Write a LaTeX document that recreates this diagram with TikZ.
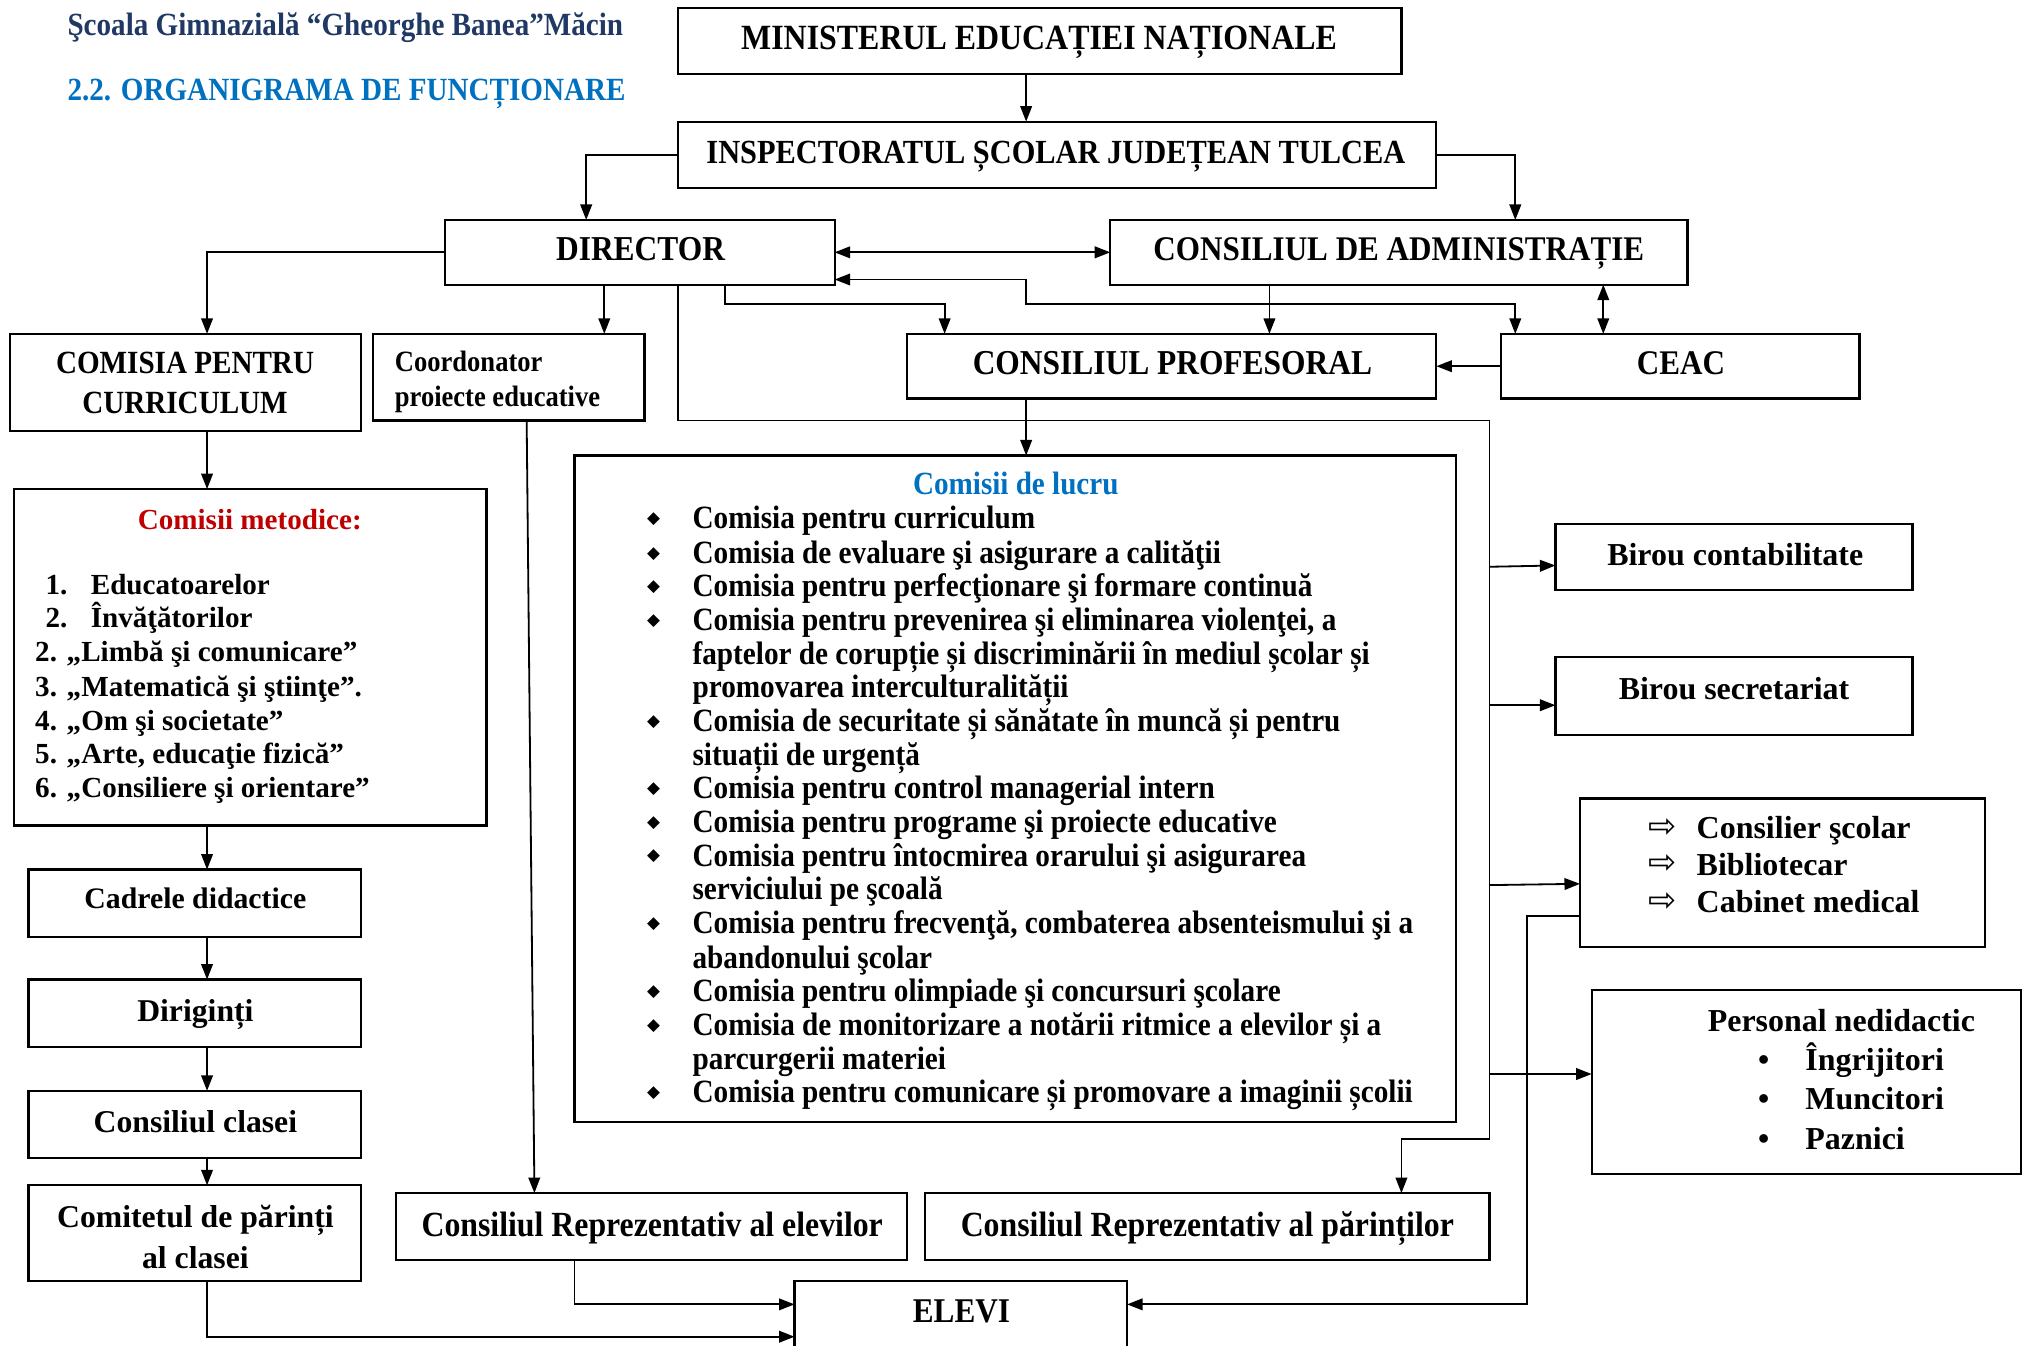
\documentclass[tikz,border=0pt]{standalone}
\usepackage{fontspec}
\setmainfont{Liberation Serif}
\newfontfamily\condf[FakeStretch=0.9]{Liberation Serif}
\newfontfamily\symf{DejaVu Sans}
\usetikzlibrary{arrows.meta}
\definecolor{navy}{RGB}{31,56,100}
\definecolor{tblue}{RGB}{0,112,192}
\definecolor{tred}{RGB}{192,0,0}
\newcommand\myfs[1]{\fontsize{#1}{#1}\selectfont}
\tikzset{
 bx/.style={draw, line width=1.7pt, inner sep=0pt, outer sep=0pt},
 ct/.style={inner sep=0pt, anchor=mid, yshift=-6pt, font=\condf\bfseries\myfs{#1}},
 ctl/.style={inner sep=0pt, anchor=mid west, yshift=-6pt, font=\condf\bfseries\myfs{#1}},
 nt/.style={inner sep=0pt, anchor=mid, yshift=-6pt, font=\bfseries\myfs{#1}},
 ntl/.style={inner sep=0pt, anchor=mid west, yshift=-6pt, font=\bfseries\myfs{#1}},
 bul/.style={inner sep=0pt, anchor=mid, yshift=-2pt, font=\symf\myfs{#1}},
 arr/.style={line width=1.4pt, -{Triangle[length=12pt,width=9pt]}},
 dbl/.style={line width=1.4pt, {Triangle[length=12pt,width=9pt]}-{Triangle[length=12pt,width=9pt]}},
 ln/.style={line width=1.4pt},
}
\begin{document}
\begin{tikzpicture}[x=1pt,y=-1pt]
\useasboundingbox (0,0) rectangle (1568,1040);
\clip (0,0) rectangle (1568,1040);

% titles
\node[ctl=25, text=navy] (t1) at (52,19) {Şcoala Gimnazială “Gheorghe Banea”Măcin};
\node[ctl=25, text=tblue] (t2) at (52,69) {2.2. ORGANIGRAMA DE FUNCȚIONARE};

% boxes
\node[bx, minimum width=559pt, minimum height=51pt] (men) at (803.5,31.5) {};
\node[bx, minimum width=586pt, minimum height=51pt] (isj) at (817,119.5) {};
\node[bx, minimum width=301pt, minimum height=50pt] (dir) at (494.5,195) {};
\node[bx, minimum width=446pt, minimum height=50pt] (ca) at (1081,195) {};
\node[bx, minimum width=271pt, minimum height=75pt] (ccur) at (143.5,295.5) {};
\node[bx, minimum width=210pt, minimum height=67pt] (coord) at (393,291.5) {};
\node[bx, minimum width=409pt, minimum height=50pt] (cp) at (905.5,283) {};
\node[bx, minimum width=277pt, minimum height=50pt] (ceac) at (1298.5,283) {};
\node[bx, minimum width=365pt, minimum height=260pt] (met) at (193.5,508) {};
\node[bx, minimum width=257pt, minimum height=52pt] (cad) at (150.5,698) {};
\node[bx, minimum width=257pt, minimum height=52pt] (dirig) at (150.5,783) {};
\node[bx, minimum width=257pt, minimum height=52pt] (ccl) at (150.5,869) {};
\node[bx, minimum width=257pt, minimum height=74pt] (com) at (150.5,953) {};
\node[bx, minimum width=681pt, minimum height=515pt] (lucru) at (784.5,609.5) {};
\node[bx, minimum width=276pt, minimum height=51pt] (bc) at (1340,430.5) {};
\node[bx, minimum width=276pt, minimum height=60pt] (bs) at (1340,538) {};
\node[bx, minimum width=313pt, minimum height=115pt] (cons) at (1377.5,674.5) {};
\node[bx, minimum width=332pt, minimum height=142pt] (pers) at (1396,836) {};
\node[bx, minimum width=395pt, minimum height=52pt] (cre) at (503.5,948) {};
\node[bx, minimum width=436pt, minimum height=52pt] (crp) at (933,948) {};
\node[bx, minimum width=257pt, minimum height=80pt] (elevi) at (742.5,1030) {};

% box texts
\node[ct=27.4] (menT) at (803,30) {MINISTERUL EDUCAȚIEI NAȚIONALE};
\node[ct=26.1] (isjT) at (816,118) {INSPECTORATUL ȘCOLAR JUDEȚEAN TULCEA};
\node[ct=27] (dirT) at (495,193) {DIRECTOR};
\node[ct=26.7] (caT) at (1081,193) {CONSILIUL DE ADMINISTRAȚIE};
\node[ct=25] (ccurT1) at (143,280) {COMISIA PENTRU};
\node[ct=25] (ccurT2) at (143,311) {CURRICULUM};
\node[ctl=22.8] (coordT1) at (305,279) {Coordonator};
\node[ctl=22.8] (coordT2) at (305,306) {proiecte educative};
\node[ct=27] (cpT) at (906,281) {CONSILIUL PROFESORAL};
\node[ct=26.7] (ceacT) at (1299,281) {CEAC};

% comisii metodice
\node[nt=22.5, text=tred] (metT) at (193,401) {Comisii metodice:};
\node[ntl=22.5] (m1n) at (35,451) {1.};
\node[ntl=22.5] (m1) at (70,451) {Educatoarelor};
\node[ntl=22.5] (m2n) at (35,477) {2.};
\node[ntl=22.5] (m2) at (70,477) {Învăţătorilor};
\node[ntl=22.5] (m3) at (27,503) {2. „Limbă şi comunicare”};
\node[ntl=22.5] (m4) at (27,530) {3. „Matematică şi ştiinţe”.};
\node[ntl=22.5] (m5) at (27,556) {4. „Om şi societate”};
\node[ntl=22.5] (m6) at (27,582) {5. „Arte, educaţie fizică”};
\node[ntl=22.5] (m7) at (27,608) {6. „Consiliere şi orientare”};

\node[nt=23] (cadT) at (151,694) {Cadrele didactice};
\node[nt=24.5] (dirigT) at (151,781) {Diriginți};
\node[nt=24.5] (cclT) at (151,867) {Consiliul clasei};
\node[nt=24.5] (comT1) at (151,940) {Comitetul de părinți};
\node[nt=24.5] (comT2) at (151,972) {al clasei};

% comisii de lucru
\node[ct=25, text=tblue] (lucruT) at (785,374) {Comisii de lucru};
\foreach \yy/\nm in {400/1,427/2,453/3,479/4,557/5,609/6,635/7,661/8,713/9,766/10,792/11,844/12}
  \node[bul=13] (d\nm) at (505,\yy) {◆};
\node[ctl=25.1] (l1) at (535,400) {Comisia pentru curriculum};
\node[ctl=25.1] (l2) at (535,427) {Comisia de evaluare şi asigurare a calităţii};
\node[ctl=25.1] (l3) at (535,453) {Comisia pentru perfecţionare şi formare continuă};
\node[ctl=25.1] (l4) at (535,479) {Comisia pentru prevenirea şi eliminarea violenţei, a};
\node[ctl=25.1] (l4b) at (535,505) {faptelor de corupție și discriminării în mediul școlar și};
\node[ctl=25.1] (l4c) at (535,531) {promovarea interculturalității};
\node[ctl=25.1] (l5) at (535,557) {Comisia de securitate și sănătate în muncă și pentru};
\node[ctl=25.1] (l5b) at (535,583) {situații de urgență};
\node[ctl=25.1] (l6) at (535,609) {Comisia pentru control managerial intern};
\node[ctl=25.1] (l7) at (535,635) {Comisia pentru programe şi proiecte educative};
\node[ctl=25.1] (l8) at (535,661) {Comisia pentru întocmirea orarului şi asigurarea};
\node[ctl=25.1] (l8b) at (535,687) {serviciului pe şcoală};
\node[ctl=25.1] (l9) at (535,713) {Comisia pentru frecvenţă, combaterea absenteismului şi a};
\node[ctl=25.1] (l9b) at (535,740) {abandonului şcolar};
\node[ctl=25.1] (l10) at (535,766) {Comisia pentru olimpiade şi concursuri şcolare};
\node[ctl=25.1] (l11) at (535,792) {Comisia de monitorizare a notării ritmice a elevilor și a};
\node[ctl=25.1] (l11b) at (535,818) {parcurgerii materiei};
\node[ctl=25.1] (l12) at (535,844) {Comisia pentru comunicare și promovare a imaginii școlii};

% right side
\node[nt=24.7] (bcT) at (1341,429) {Birou contabilitate};
\node[nt=24.7] (bsT) at (1340,532) {Birou secretariat};
\node[bul=26, yshift=-3pt] (a1) at (1285,640) {⇨};
\node[bul=26, yshift=-3pt] (a2) at (1285,668) {⇨};
\node[bul=26, yshift=-3pt] (a3) at (1285,697) {⇨};
\node[ntl=24.7] (c1) at (1311,640) {Consilier şcolar};
\node[ntl=24.7] (c2) at (1311,668) {Bibliotecar};
\node[ntl=24.7] (c3) at (1311,697) {Cabinet medical};
\node[nt=24.7] (persT) at (1423,789) {Personal nedidactic};
\node[nt=24.7] (p1b) at (1363,819) {•};
\node[nt=24.7] (p2b) at (1363,849) {•};
\node[nt=24.7] (p3b) at (1363,880) {•};
\node[ntl=24.7] (p1) at (1395,819) {Îngrijitori};
\node[ntl=24.7] (p2) at (1395,849) {Muncitori};
\node[ntl=24.7] (p3) at (1395,880) {Paznici};

% bottom
\node[ct=27.3] (creT) at (504,947) {Consiliul Reprezentativ al elevilor};
\node[ct=27.3] (crpT) at (933,947) {Consiliul Reprezentativ al părinților};
\node[ct=26.8] (eleviT) at (743,1014) {ELEVI};

% connectors
\draw[arr] (793,0 |- men.south) -- (793,0 |- isj.north);
\draw[arr] (isj.west) -| (453,0 |- dir.north);
\draw[arr] (isj.east) -| (1171,0 |- ca.north);
\draw[dbl] (dir.east) -- (ca.west);
\draw[arr] (dir.west) -| (160,0 |- ccur.north);
\draw[arr] (467,0 |- dir.south) -- (467,0 |- coord.north);
\draw[arr] (560,0 |- dir.south) -- (560,235) -| (730,0 |- cp.north);
\draw[dbl] (dir.east |- 0,216) -- (793,216) -- (793,235) -| (1171,0 |- ceac.north);
\draw[arr] (981,0 |- ca.south) -- (981,0 |- cp.north);
\draw[dbl] (1239,0 |- ca.south) -- (1239,0 |- ceac.north);
\draw[arr] (ceac.west) -- (cp.east);
\draw[arr] (793,0 |- cp.south) -- (793,0 |- lucru.north);

\coordinate (bus1) at (1151,438);
\coordinate (bus2) at (1151,545);
\coordinate (bus3) at (1151,684);
\coordinate (bus4) at (1151,830);
\draw[arr] (524,0 |- dir.south) |- (1151,325) -- (1151,880) -| (1083,0 |- crp.north);
\draw[arr] (bus1) -- (bc.west |- 0,437);
\draw[arr] (bus2) -- (bs.west |- 0,545);
\draw[arr] (bus3) -- (cons.west |- 0,683);
\draw[arr] (bus4) -- (pers.west |- 0,830);
\draw[arr] (cons.west |- 0,708) -| (1180,1008) -- (elevi.east |- 0,1008);

\draw[arr] (160,0 |- ccur.south) -- (160,0 |- met.north);
\draw[arr] (160,0 |- met.south) -- (160,0 |- cad.north);
\draw[arr] (160,0 |- cad.south) -- (160,0 |- dirig.north);
\draw[arr] (160,0 |- dirig.south) -- (160,0 |- ccl.north);
\draw[arr] (160,0 |- ccl.south) -- (160,0 |- com.north);
\draw[arr] (160,0 |- com.south) |- (elevi.west |- 0,1033);
\draw[arr] (407,0 |- coord.south) -- (413,0 |- cre.north);
\draw[arr] (444,0 |- cre.south) |- (elevi.west |- 0,1008);
\end{tikzpicture}
\end{document}
